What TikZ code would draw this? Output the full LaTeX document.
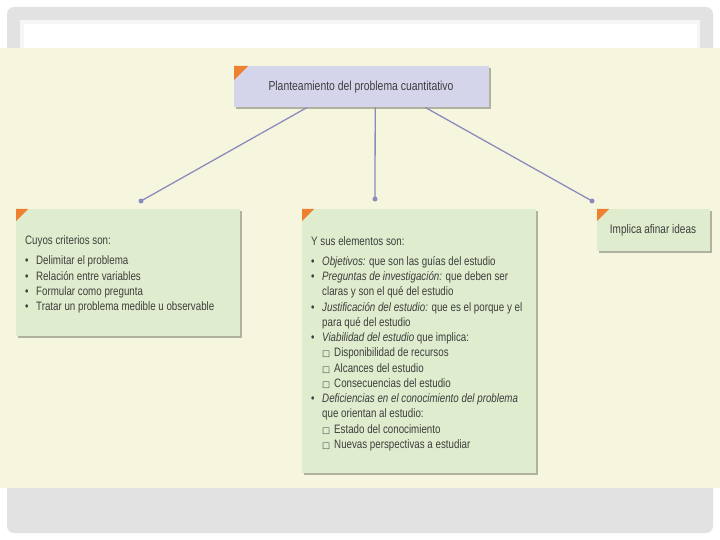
\documentclass[tikz,border=0pt]{standalone}
\usepackage{fontspec}
\setmainfont{Liberation Sans}[FakeStretch=0.8]
\newfontfamily\symfont{DejaVu Sans}
\usetikzlibrary{shadows}

\definecolor{panel}{RGB}{246,246,223}
\definecolor{frame}{RGB}{226,226,226}
\definecolor{lilac}{RGB}{212,212,235}
\definecolor{leaf}{RGB}{223,236,205}
\definecolor{tip}{RGB}{238,128,48}
\definecolor{wire}{RGB}{140,140,188}
\definecolor{ink}{RGB}{62,62,62}

\newcommand{\bul}{\makebox[11pt][l]{\textbullet}}
\newcommand{\sqr}{\makebox[12pt][l]{{\symfont\fontsize{8.5}{15.25}\selectfont □}}}
\newcommand{\ind}{\hspace*{11pt}}

\tikzset{
  card/.style={fill=#1, inner sep=0pt, anchor=north west,
    drop shadow={shadow xshift=2pt, shadow yshift=-2pt, fill=black, opacity=0.28}},
  words/.style={inner sep=0pt, anchor=base west, align=left, text=ink,
    font=\fontsize{12.2}{15.25}\selectfont},
  dot/.style={circle, fill=wire, inner sep=0pt, minimum size=5pt},
  wireline/.style={draw=wire, line width=1.3pt}
}

\begin{document}
\begin{tikzpicture}[x=1pt,y=-1pt]
\useasboundingbox (0,0) rectangle (720,540);

% Slide background and frame
  \fill[white] (0,0) rectangle (720,540);
  \fill[frame, rounded corners=7] (7,7) rectangle (713,533);
  \fill[white!70!frame] (20,20) rectangle (700,48);
  \fill[white] (24,24) rectangle (697,48);
  \fill[panel] (0,48) rectangle (720,488);

% Top box
  \node[card=lilac, minimum width=255pt, minimum height=41pt] (plan) at (234,66) {};
  \node[text=ink, font=\fontsize{13}{15}\selectfont] (plantxt) at (361,87.5)
    {Planteamiento del problema cuantitativo};
  \fill[tip] (plan.north west) -- ++(14,0) -- ++(-14,14) -- cycle;

% Lower boxes
  \node[card=leaf, minimum width=224pt, minimum height=127pt] (crit) at (16,209) {};
  \node[card=leaf, minimum width=234pt, minimum height=264pt] (elem) at (302,209) {};
  \node[card=leaf, minimum width=113pt, minimum height=42pt] (impl) at (597,209) {};
  \foreach \b in {crit,elem,impl}
    \fill[tip] (\b.north west) -- ++(12,0) -- ++(-12,12) -- cycle;

% Connectors and their dots
  \node[dot] (dl) at (141,201) {};
  \node[dot] (dm) at (375,199) {};
  \node[dot] (dr) at (592,201) {};
  \draw[wireline] ([xshift=-54.5pt]plan.south) -- (dl.center);
  \draw[wireline] ([xshift=13.5pt]plan.south) -- (dm.center);
  \draw[wireline] ([xshift=63.5pt]plan.south) -- (dr.center);

% Texts of the lower boxes (placed by the baseline of their last line)
  \node[words] (crittxt) at (25,310.5) {Cuyos criterios son:\\[5.5pt]
    \bul Delimitar el problema\\
    \bul Relación entre variables\\
    \bul Formular como pregunta\\
    \bul Tratar un problema medible u observable};

  \node[words] (elemtxt) at (311,448.25) {Y sus elementos son:\\[5pt]
    \bul\textit{Objetivos:} que son las guías del estudio\\
    \bul\textit{Preguntas de investigación:} que deben ser\\
    \ind claras y son el qué del estudio\\
    \bul\textit{Justificación del estudio:} que es el porque y el\\
    \ind para qué del estudio\\
    \bul\textit{Viabilidad del estudio} que implica:\\
    \ind\sqr Disponibilidad de recursos\\
    \ind\sqr Alcances del estudio\\
    \ind\sqr Consecuencias del estudio\\
    \bul\textit{Deficiencias en el conocimiento del problema}\\
    \ind que orientan al estudio:\\
    \ind\sqr Estado del conocimiento\\
    \ind\sqr Nuevas perspectivas a estudiar};

  \node[text=ink, font=\fontsize{12.5}{15}\selectfont] (impltxt) at (653,230.5)
    {Implica afinar ideas};
\end{tikzpicture}
\end{document}
